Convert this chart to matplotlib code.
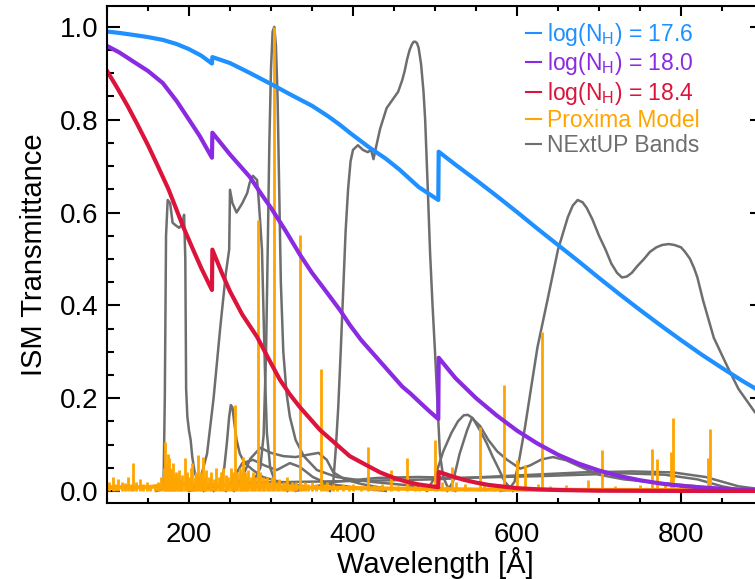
import matplotlib
matplotlib.use("Agg")
import matplotlib.pyplot as plt
from matplotlib.lines import Line2D
from matplotlib.ticker import MultipleLocator

plt.rcParams["font.family"] = ["Liberation Sans", "DejaVu Sans"]
plt.rcParams["mathtext.default"] = "regular"

C_BLUE, C_PURP, C_RED = "#1E90FF", "#8A2BE2", "#DC143C"
C_ORNG, C_GRAY = "#FFA500", "#6E6E6E"

# --- ISM transmittance curves (jumps at the He II 228 A and He I 504 A edges) ---
ism_wl_176 = [100, 115, 135, 150, 168, 185, 200, 215, 228, 228.5, 250, 275, 302, 325, 350, 370,
              384, 396, 420, 440, 457, 480, 504, 504.5, 525, 550, 575, 600, 625, 650, 675, 700,
              725, 750, 775, 800, 825, 850, 875, 900]
ism_t_176 = [0.99, 0.987, 0.982, 0.978, 0.972, 0.963, 0.952, 0.938, 0.921, 0.935, 0.922, 0.90,
             0.875, 0.853, 0.83, 0.807, 0.789, 0.772, 0.74, 0.716, 0.692, 0.655, 0.627, 0.731,
             0.703, 0.670, 0.636, 0.601, 0.565, 0.530, 0.495, 0.459, 0.424, 0.390, 0.357, 0.325,
             0.294, 0.265, 0.237, 0.211]

ism_wl_180 = [100, 115, 135, 150, 168, 185, 200, 213, 228, 228.5, 250, 274, 290, 300, 318, 335,
              350, 365, 384, 396, 410, 420, 440, 450, 460, 470, 482, 493, 504, 504.5, 525, 550,
              575, 600, 625, 650, 675, 700, 725, 750, 775, 800, 825, 850, 875, 900]
ism_t_180 = [0.959, 0.945, 0.922, 0.905, 0.879, 0.84, 0.80, 0.765, 0.718, 0.772, 0.725, 0.677,
             0.635, 0.61, 0.56, 0.51, 0.47, 0.435, 0.39, 0.358, 0.325, 0.305, 0.265, 0.245, 0.225,
             0.21, 0.19, 0.172, 0.155, 0.287, 0.243, 0.200, 0.163, 0.130, 0.102, 0.078, 0.059,
             0.044, 0.032, 0.023, 0.016, 0.011, 0.0074, 0.005, 0.0025, 0.002]

ism_wl_184 = [100, 112, 125, 137, 150, 162, 175, 185, 193, 205, 215, 228, 228.5, 240, 250, 265,
              283, 297, 311, 323, 335, 348, 360, 380, 396, 417, 433, 450, 465, 480, 504, 504.5,
              520, 535, 550, 565, 580, 600, 625, 650, 700, 800, 900]
ism_t_184 = [0.905, 0.87, 0.83, 0.79, 0.745, 0.70, 0.65, 0.605, 0.569, 0.52, 0.48, 0.433, 0.52,
             0.47, 0.43, 0.38, 0.332, 0.285, 0.239, 0.208, 0.181, 0.155, 0.131, 0.10, 0.075,
             0.055, 0.04, 0.028, 0.02, 0.014, 0.008, 0.041, 0.032, 0.024, 0.018, 0.013, 0.010,
             0.006, 0.0035, 0.002, 0.0005, 0.0, 0.0]

# --- Proxima model spectrum: emission lines + weak continuum ---
line_wl = [103, 107, 110, 113, 118, 122, 126, 129, 132, 135, 140, 144, 149, 153, 158, 162, 166,
           170, 171, 172, 174, 175, 177, 179, 180, 182, 184, 186, 188, 190, 192, 195, 197, 200,
           202, 204, 207, 209, 211, 213, 215, 217, 219, 221, 224, 227, 230, 233, 236, 239, 242,
           245, 248, 251, 254, 256, 259, 262, 264, 266, 268, 270, 272, 275, 278, 281, 284, 287,
           290, 292, 295, 298, 301, 304, 307, 310, 313, 316, 319, 322, 325, 328, 331, 335, 338,
           341, 345, 350, 355, 361, 365, 368, 375, 380, 388, 395, 400, 410, 418, 425, 430, 435,
           446, 455, 466, 475, 480, 490, 500, 503, 508, 515, 521, 525, 537, 555, 560, 572, 584,
           590, 600, 610, 625, 630, 640, 660, 686, 704, 720, 750, 765, 771, 780, 788, 790, 800,
           810, 833, 835, 850]
line_h = [0.02, 0.03, 0.015, 0.025, 0.02, 0.018, 0.03, 0.015, 0.06, 0.02, 0.025, 0.015, 0.02,
          0.012, 0.015, 0.02, 0.03, 0.05, 0.106, 0.06, 0.08, 0.07, 0.05, 0.045, 0.06, 0.035, 0.04,
          0.03, 0.045, 0.025, 0.035, 0.07, 0.04, 0.03, 0.05, 0.06, 0.03, 0.04, 0.078, 0.035, 0.04,
          0.073, 0.03, 0.045, 0.03, 0.04, 0.025, 0.05, 0.03, 0.04, 0.05, 0.035, 0.03, 0.05, 0.04,
          0.185, 0.04, 0.05, 0.035, 0.073, 0.04, 0.03, 0.045, 0.03, 0.04, 0.03, 0.584, 0.04, 0.03,
          0.025, 0.03, 0.02, 0.03, 1.0, 0.02, 0.025, 0.015, 0.02, 0.03, 0.015, 0.02, 0.015, 0.02,
          0.552, 0.015, 0.02, 0.015, 0.02, 0.015, 0.263, 0.015, 0.02, 0.015, 0.01, 0.015, 0.01,
          0.015, 0.01, 0.095, 0.012, 0.01, 0.015, 0.045, 0.01, 0.071, 0.012, 0.01, 0.015, 0.11,
          0.03, 0.02, 0.01, 0.052, 0.02, 0.015, 0.138, 0.015, 0.01, 0.228, 0.01, 0.067, 0.056,
          0.015, 0.343, 0.01, 0.012, 0.024, 0.088, 0.01, 0.012, 0.09, 0.069, 0.02, 0.084, 0.157,
          0.01, 0.015, 0.07, 0.134, 0.005]
cont_wl = [100, 150, 170, 200, 250, 300, 350, 400, 450, 500, 550, 600, 700, 800, 900]
cont_h = [0.008, 0.008, 0.012, 0.014, 0.012, 0.010, 0.007, 0.006, 0.005, 0.004, 0.003, 0.003,
          0.002, 0.002, 0.001]

# --- NExtUP band responses ---
bands = [
    ([160, 167, 169, 170.5, 172, 174, 177, 180, 184, 188, 192, 194, 195.5, 196.5, 198, 200, 202,
      204, 207, 210, 218],
     [0.0, 0.003, 0.02, 0.2, 0.55, 0.627, 0.62, 0.578, 0.572, 0.567, 0.575, 0.595, 0.5, 0.22,
      0.16, 0.13, 0.11, 0.073, 0.04, 0.024, 0.0]),
    ([200, 213, 222, 230, 238, 245, 249, 250, 253, 258, 265, 271, 274, 278, 283, 285, 289, 291,
      293, 295, 299, 305, 320],
     [0.0, 0.02, 0.08, 0.2, 0.35, 0.47, 0.52, 0.649, 0.62, 0.60, 0.62, 0.642, 0.664, 0.679, 0.67,
      0.627, 0.52, 0.375, 0.233, 0.125, 0.05, 0.02, 0.0]),
    ([270, 280, 287, 291, 294, 296, 298, 300, 302, 304, 306, 308, 310, 312, 315, 319, 323, 330,
      340, 356, 380, 420, 480],
     [0.01, 0.025, 0.05, 0.12, 0.3, 0.52, 0.75, 0.91, 0.99, 1.0, 0.96, 0.85, 0.65, 0.45, 0.30,
      0.21, 0.16, 0.11, 0.075, 0.045, 0.03, 0.02, 0.01]),
    ([230, 238, 243, 246, 249, 251, 253, 255, 258, 262, 268, 278, 290, 310, 340],
     [0.0, 0.015, 0.05, 0.10, 0.16, 0.185, 0.18, 0.15, 0.11, 0.08, 0.06, 0.045, 0.03, 0.02, 0.01]),
    ([255, 265, 275, 287, 300, 315, 330, 345, 358, 368, 376, 390, 410, 440],
     [0.0, 0.03, 0.07, 0.093, 0.082, 0.075, 0.073, 0.078, 0.082, 0.067, 0.04, 0.025, 0.015, 0.005]),
    ([245, 255, 265, 278, 292, 307, 323, 335, 351, 370, 400, 440],
     [0.0, 0.03, 0.06, 0.067, 0.055, 0.045, 0.06, 0.052, 0.03, 0.015, 0.008, 0.0]),
    ([200, 240, 280, 350, 420, 500, 560, 620, 680, 740, 790, 830, 870, 900],
     [0.0, 0.012, 0.018, 0.02, 0.022, 0.025, 0.03, 0.035, 0.04, 0.042, 0.04, 0.03, 0.01, 0.003]),
    ([330, 380, 430, 480, 530, 580, 630, 680, 730, 780, 820, 850, 880],
     [0.0, 0.02, 0.028, 0.03, 0.028, 0.03, 0.032, 0.035, 0.038, 0.035, 0.025, 0.01, 0.0]),
    ([372, 376, 379, 382, 385, 388, 391, 394, 397, 400, 406, 412, 418, 422, 425, 428, 433, 441,
      445, 451, 455, 460, 463, 466, 469, 472, 474, 476, 478, 480, 483, 486, 488, 491, 494, 497,
      500, 503, 506, 510, 515, 525],
     [0.0, 0.02, 0.09, 0.18, 0.3, 0.43, 0.56, 0.65, 0.71, 0.735, 0.745, 0.735, 0.73, 0.735,
      0.715, 0.74, 0.78, 0.825, 0.835, 0.85, 0.86, 0.885, 0.905, 0.93, 0.95, 0.963, 0.968,
      0.968, 0.965, 0.955, 0.92, 0.86, 0.80, 0.66, 0.513, 0.40, 0.30, 0.19, 0.08, 0.03, 0.01, 0.0]),
    ([490, 500, 510, 520, 528, 535, 540, 546, 555, 563, 570, 577, 585, 595],
     [0.0, 0.03, 0.085, 0.125, 0.15, 0.163, 0.164, 0.157, 0.13, 0.103, 0.075, 0.05, 0.02, 0.0]),
    ([515, 522, 530, 539, 545, 555, 565, 576, 588, 604, 616, 630, 644, 660, 680, 700, 730, 770,
      820, 870],
     [0.0, 0.02, 0.08, 0.13, 0.157, 0.14, 0.11, 0.085, 0.067, 0.048, 0.055, 0.068, 0.073, 0.066,
      0.05, 0.035, 0.025, 0.018, 0.01, 0.0]),
    ([580, 590, 597, 603, 610, 617, 625, 637, 650, 662, 668, 674, 680, 685, 692, 700, 708, 715,
      722, 728, 734, 740, 747, 755, 762, 770, 777, 785, 792, 800, 805, 811, 816, 820, 827, 840,
      856, 870, 890, 900],
     [0.0, 0.003, 0.02, 0.07, 0.14, 0.22, 0.31, 0.41, 0.52, 0.59, 0.615, 0.627, 0.622, 0.61,
      0.585, 0.55, 0.52, 0.49, 0.47, 0.46, 0.462, 0.47, 0.485, 0.50, 0.515, 0.525, 0.53, 0.532,
      0.53, 0.525, 0.515, 0.50, 0.48, 0.46, 0.41, 0.33, 0.27, 0.22, 0.17, 0.15]),
]

fig = plt.figure(figsize=(7.55, 5.79), dpi=100)
ax = fig.add_axes([107 / 755, 76 / 579, 656 / 755, 497 / 579])

for wl, t in bands:
    ax.plot(wl, t, color=C_GRAY, lw=1.8, solid_joinstyle="round")

ax.plot(cont_wl, cont_h, color=C_ORNG, lw=3)
ax.vlines(line_wl, 0, line_h, color=C_ORNG, lw=2.0)

ax.plot(ism_wl_176, ism_t_176, color=C_BLUE, lw=3)
ax.plot(ism_wl_180, ism_t_180, color=C_PURP, lw=3)
ax.plot(ism_wl_184, ism_t_184, color=C_RED, lw=3)

ax.set_xlim(100, 900)
ax.set_ylim(-0.026, 1.045)
ax.xaxis.set_major_locator(MultipleLocator(200))
ax.xaxis.set_minor_locator(MultipleLocator(50))
ax.yaxis.set_major_locator(MultipleLocator(0.2))
ax.yaxis.set_minor_locator(MultipleLocator(0.05))
ax.yaxis.set_major_formatter(plt.FuncFormatter(lambda v, p: f"{v:.1f}"))
ax.tick_params(which="both", direction="in", top=True, right=True, width=1.5, labelsize=20)
ax.tick_params(axis="x", which="major", length=7.2, pad=14)
ax.tick_params(axis="x", which="minor", length=3.6)
ax.tick_params(axis="y", which="major", length=9.4, pad=6)
ax.tick_params(axis="y", which="minor", length=4.7)
for s in ax.spines.values():
    s.set_linewidth(1.5)

ax.set_xlabel("Wavelength [Å]", fontsize=21, labelpad=-1)
ax.set_ylabel("ISM Transmittance", fontsize=21, labelpad=9)

handles = [
    Line2D([], [], color=C_BLUE, lw=1.5, label="log(N$_\\mathregular{H}$) = 17.6"),
    Line2D([], [], color=C_PURP, lw=1.5, label="log(N$_\\mathregular{H}$) = 18.0"),
    Line2D([], [], color=C_RED, lw=1.5, label="log(N$_\\mathregular{H}$) = 18.4"),
    Line2D([], [], color=C_ORNG, lw=1.5, label="Proxima Model"),
    Line2D([], [], color=C_GRAY, lw=1.5, label="NExtUP Bands"),
]
fig.legend(handles=handles, loc="upper left", bbox_to_anchor=(526 / 755, 1 - 21 / 579),
           frameon=False, fontsize=16.5, labelcolor="linecolor", handlelength=0.65,
           handletextpad=0.25, labelspacing=0.1, borderpad=0, borderaxespad=0)

fig.savefig("out.png", dpi=100)
